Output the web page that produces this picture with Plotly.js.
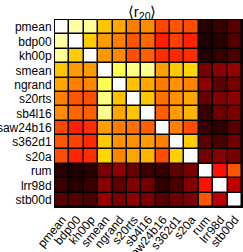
<!DOCTYPE html>
<html>
<head>
<meta charset="utf-8">
<script src="https://cdn.plot.ly/plotly-3.0.1.min.js"></script>
<style>
  html, body { margin: 0; padding: 0; background: #fff; }
  #chart { width: 243px; height: 252px; }
</style>
</head>
<body>
<div id="chart"></div>
<script>
// Model names, in matrix order (top row / left column first)
const models = ["pmean", "bdp00", "kh00p", "smean", "ngrand", "s20rts", "sb4l16",
                "saw24b16", "s362d1", "s20a", "rum", "lrr98d", "stb00d"];

// Mean correlation <r20> between each pair of models
const r20 = [
  [1.00, 0.91, 0.90, 0.664, 0.62, 0.56, 0.58, 0.475, 0.50, 0.487, 0.06, 0.085, 0.13],
  [0.91, 1.00, 0.675, 0.60, 0.56, 0.50, 0.525, 0.42, 0.47, 0.425, 0.045, 0.06, 0.125],
  [0.90, 0.675, 1.00, 0.60, 0.575, 0.49, 0.515, 0.44, 0.435, 0.44, 0.055, 0.08, 0.11],
  [0.664, 0.60, 0.60, 1.00, 0.83, 0.875, 0.89, 0.61, 0.67, 0.69, 0.176, 0.20, 0.22],
  [0.62, 0.56, 0.575, 0.83, 1.00, 0.66, 0.62, 0.555, 0.59, 0.57, 0.21, 0.14, 0.176],
  [0.56, 0.50, 0.49, 0.875, 0.66, 1.00, 0.664, 0.54, 0.587, 0.62, 0.15, 0.19, 0.21],
  [0.58, 0.525, 0.515, 0.89, 0.62, 0.664, 1.00, 0.515, 0.605, 0.64, 0.085, 0.165, 0.18],
  [0.475, 0.42, 0.44, 0.61, 0.555, 0.54, 0.515, 1.00, 0.56, 0.487, 0.08, 0.07, 0.13],
  [0.50, 0.47, 0.435, 0.67, 0.59, 0.587, 0.605, 0.56, 1.00, 0.68, 0.14, 0.11, 0.165],
  [0.487, 0.425, 0.44, 0.69, 0.57, 0.62, 0.64, 0.487, 0.68, 1.00, 0.176, 0.195, 0.176],
  [0.06, 0.045, 0.055, 0.176, 0.21, 0.15, 0.085, 0.08, 0.14, 0.176, 1.00, 0.40, 0.50],
  [0.085, 0.06, 0.08, 0.20, 0.14, 0.19, 0.165, 0.07, 0.11, 0.195, 0.40, 1.00, 0.28],
  [0.13, 0.125, 0.11, 0.22, 0.176, 0.21, 0.18, 0.13, 0.165, 0.176, 0.50, 0.28, 1.00]
];

// "hot" colour map: black -> red -> yellow -> white
const hot = [
  [0.0, "rgb(0,0,0)"],
  [0.375, "rgb(255,0,0)"],
  [0.75, "rgb(255,255,0)"],
  [1.0, "rgb(255,255,255)"]
];

const font = { family: "Liberation Sans, Arial, sans-serif", size: 12, color: "#000" };

Plotly.newPlot("chart", [{
  type: "heatmap",
  x: models,
  y: models,
  z: r20,
  zmin: 0,
  zmax: 1,
  colorscale: hot,
  showscale: false,
  xgap: 1.5,
  ygap: 1.5,
  hoverinfo: "skip"
}], {
  width: 243,
  height: 252,
  margin: { l: 55, r: 1, t: 20, b: 45, pad: 0 },
  paper_bgcolor: "#fff",
  plot_bgcolor: "#000",
  font: font,
  title: {
    text: "⟨r<sub>20</sub>⟩",
    font: { family: "Liberation Sans, Arial, sans-serif", size: 15, color: "#000" },
    x: 0.585, xanchor: "center",
    y: 0.975, yanchor: "top"
  },
  xaxis: {
    type: "category",
    tickangle: -50,
    ticks: "",
    showgrid: false,
    zeroline: false,
    showline: true, mirror: true, linecolor: "#000", linewidth: 1,
    tickfont: font
  },
  yaxis: {
    type: "category",
    autorange: "reversed",
    ticks: "",
    showgrid: false,
    zeroline: false,
    showline: true, mirror: true, linecolor: "#000", linewidth: 1,
    tickfont: font
  }
}, { displayModeBar: false, staticPlot: true });
</script>
</body>
</html>
